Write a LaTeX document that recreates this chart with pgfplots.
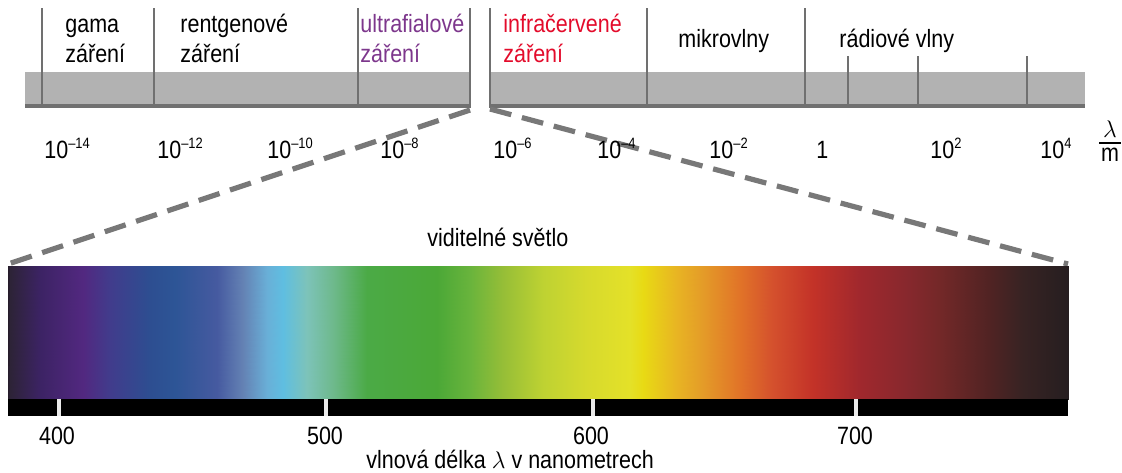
\documentclass[border=0pt]{standalone}
\usepackage{pgfplots}
\pgfplotsset{compat=1.18}
\usepackage{fontspec}
\setmainfont{Liberation Sans}[FakeStretch=0.86]
\definecolor{bandgray}{RGB}{178,178,178}
\definecolor{linegray}{RGB}{112,112,112}
\definecolor{dashgray}{RGB}{120,120,120}
\definecolor{uvpurple}{RGB}{125,55,140}
\definecolor{irred}{RGB}{227,11,43}
\newcommand{\ex}[1]{10\raisebox{4.6pt}{\fontsize{7.5}{8}\selectfont #1}}
\begin{document}
\begin{tikzpicture}[font=\fontsize{12.5}{15}\selectfont]
\begin{axis}[scale only axis, width=561pt, height=236pt,
  xmin=0, xmax=1122, ymin=0, ymax=472, y dir=reverse,
  hide axis, clip=false,
  colormap={spec}{rgb255(0cm)=(38,28,42) rgb255(1cm)=(45,35,55) rgb255(2cm)=(60,35,100) rgb255(3cm)=(82,40,128)
    rgb255(4cm)=(65,60,140) rgb255(5cm)=(45,78,145) rgb255(6cm)=(45,85,150) rgb255(7cm)=(70,90,160)
    rgb255(8cm)=(100,130,180) rgb255(9cm)=(105,175,215) rgb255(10cm)=(95,190,225) rgb255(11cm)=(125,195,185)
    rgb255(12cm)=(110,185,140) rgb255(13cm)=(75,170,70) rgb255(14cm)=(75,168,55) rgb255(15cm)=(105,180,60)
    rgb255(16cm)=(150,190,55) rgb255(17cm)=(190,210,50) rgb255(18cm)=(215,218,45) rgb255(19cm)=(228,225,40)
    rgb255(20cm)=(232,218,20) rgb255(21cm)=(232,180,35) rgb255(22cm)=(228,155,40) rgb255(23cm)=(225,115,40)
    rgb255(24cm)=(212,80,45) rgb255(25cm)=(195,50,40) rgb255(26cm)=(160,40,45) rgb255(27cm)=(135,40,45)
    rgb255(28cm)=(115,40,40) rgb255(29cm)=(80,35,35) rgb255(30cm)=(55,35,35) rgb255(31cm)=(38,30,32)},
  point meta min=0, point meta max=31]
% bounding box
\addplot[draw=none] coordinates {(0,0) (1122,472)};
% gray bands
\addplot[fill=bandgray, draw=none] coordinates {(25,72) (470,72) (470,107) (25,107)} -- cycle;
\addplot[fill=bandgray, draw=none] coordinates {(490,72) (1085,72) (1085,107) (490,107)} -- cycle;
\addplot[linegray, line width=2pt] coordinates {(25,106) (471,106)};
\addplot[linegray, line width=2pt] coordinates {(489,106) (1085,106)};
% long separators
\addplot[linegray, line width=1.1pt] coordinates {(42,8) (42,106)};
\addplot[linegray, line width=1.1pt] coordinates {(154,8) (154,106)};
\addplot[linegray, line width=1.1pt] coordinates {(358,8) (358,106)};
\addplot[linegray, line width=1.1pt] coordinates {(470,8) (470,107)};
\addplot[linegray, line width=1.1pt] coordinates {(490,8) (490,107)};
\addplot[linegray, line width=1.1pt] coordinates {(647,8) (647,106)};
\addplot[linegray, line width=1.1pt] coordinates {(805,8) (805,106)};
% short separators
\addplot[linegray, line width=1.1pt] coordinates {(848,56) (848,106)};
\addplot[linegray, line width=1.1pt] coordinates {(918,56) (918,106)};
\addplot[linegray, line width=1.1pt] coordinates {(1027,56) (1027,106)};
% dashed zoom lines
\addplot[dashgray, line width=2.6pt, dash pattern=on 11pt off 5.5pt] coordinates {(470,110) (8,264)};
\addplot[dashgray, line width=2.6pt, dash pattern=on 11pt off 5.5pt] coordinates {(490,109) (1068,264)};
% spectrum
\addplot[surf, shader=interp, mesh/cols=32, point meta=explicit] table[x=x, y=y, meta=m] {
x y m
8 266 0
10 266 1
40 266 2
83 266 3
110 266 4
150 266 5
175 266 6
217 266 7
243 266 8
267 266 9
283 266 10
307 266 11
333 266 12
367 266 13
437 266 14
470 266 15
503 266 16
543 266 17
587 266 18
630 266 19
643 266 20
677 266 21
703 266 22
740 266 23
773 266 24
813 266 25
860 266 26
907 266 27
940 266 28
990 266 29
1023 266 30
1068 266 31
8 399 0
10 399 1
40 399 2
83 399 3
110 399 4
150 399 5
175 399 6
217 399 7
243 399 8
267 399 9
283 399 10
307 399 11
333 399 12
367 399 13
437 399 14
470 399 15
503 399 16
543 399 17
587 399 18
630 399 19
643 399 20
677 399 21
703 399 22
740 399 23
773 399 24
813 399 25
860 399 26
907 399 27
940 399 28
990 399 29
1023 399 30
1068 399 31
};
% black scale bar
\addplot[fill=black, draw=none] coordinates {(8,399) (1068,399) (1068,416) (8,416)} -- cycle;
\addplot[white!92!black, line width=2pt] coordinates {(59,399) (59,416)};
\addplot[white!92!black, line width=2pt] coordinates {(326,399) (326,416)};
\addplot[white!92!black, line width=2pt] coordinates {(593,399) (593,416)};
\addplot[white!92!black, line width=2pt] coordinates {(856,399) (856,416)};
% fraction bar lambda/m
\addplot[black, line width=0.6pt] coordinates {(1099,143) (1121,143)};
% region labels
\node[anchor=base west, inner sep=0pt] at (axis cs:65,32) {gama};
\node[anchor=base west, inner sep=0pt] at (axis cs:65,62) {záření};
\node[anchor=base west, inner sep=0pt] at (axis cs:180,32) {rentgenové};
\node[anchor=base west, inner sep=0pt] at (axis cs:180,62) {záření};
\node[anchor=base west, inner sep=0pt, text=uvpurple] at (axis cs:360,32) {ultrafialové};
\node[anchor=base west, inner sep=0pt, text=uvpurple] at (axis cs:360,62) {záření};
\node[anchor=base west, inner sep=0pt, text=irred] at (axis cs:503,32) {infračervené};
\node[anchor=base west, inner sep=0pt, text=irred] at (axis cs:503,62) {záření};
\node[anchor=base west, inner sep=0pt] at (axis cs:678,47) {mikrovlny};
\node[anchor=base west, inner sep=0pt] at (axis cs:839,47) {rádiové vlny};
% wavelength tick labels (m)
\node[anchor=base west, inner sep=0pt] at (axis cs:44,158) {\ex{–14}};
\node[anchor=base west, inner sep=0pt] at (axis cs:157,158) {\ex{–12}};
\node[anchor=base west, inner sep=0pt] at (axis cs:267,158) {\ex{–10}};
\node[anchor=base west, inner sep=0pt] at (axis cs:380,158) {\ex{–8}};
\node[anchor=base west, inner sep=0pt] at (axis cs:493,158) {\ex{–6}};
\node[anchor=base west, inner sep=0pt] at (axis cs:597,158) {\ex{–4}};
\node[anchor=base west, inner sep=0pt] at (axis cs:709,158) {\ex{–2}};
\node[anchor=base west, inner sep=0pt] at (axis cs:816,158) {1};
\node[anchor=base west, inner sep=0pt] at (axis cs:930,158) {\ex{2}};
\node[anchor=base west, inner sep=0pt] at (axis cs:1040,158) {\ex{4}};
\node[anchor=base, inner sep=0pt] at (axis cs:1110,137) {$\lambda$};
\node[anchor=base, inner sep=0pt] at (axis cs:1110,161) {m};
% visible light
\node[anchor=base west, inner sep=0pt] at (axis cs:427,246) {viditelné světlo};
\node[anchor=base, inner sep=0pt] at (axis cs:57,444) {400};
\node[anchor=base, inner sep=0pt] at (axis cs:325,444) {500};
\node[anchor=base, inner sep=0pt] at (axis cs:591,444) {600};
\node[anchor=base, inner sep=0pt] at (axis cs:855,444) {700};
\node[anchor=base west, inner sep=0pt] at (axis cs:366,468) {vlnová délka $\lambda$ v nanometrech};
\end{axis}
\end{tikzpicture}
\end{document}
